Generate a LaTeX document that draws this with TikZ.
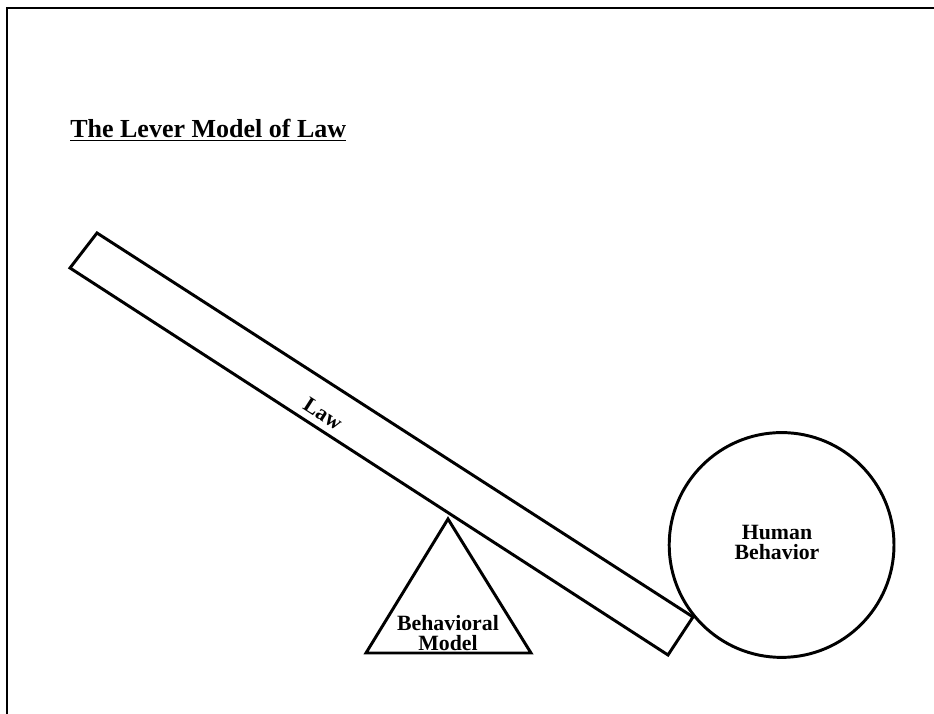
\documentclass[tikz,border=0pt]{standalone}
\usepackage{fontspec}
\setmainfont{Liberation Serif}
\usepackage{tikz}

\begin{document}
\begin{tikzpicture}[
    edge/.style={black, line width=2.1pt, line join=miter},
    lbl/.style={font=\bfseries\fontsize{15.5}{14.2}\selectfont, align=center, inner sep=0pt},
    titlefont/.style={font=\bfseries\fontsize{18.5}{20}\selectfont, inner sep=0pt}]
      \useasboundingbox (0,0) rectangle (23.35,17.85);
      % Frame
      \draw[edge] (0.175,0) -- (0.175,17.65) -- (23.35,17.65);

      % Title
      \node[titlefont, anchor=base west] (title) at (1.75,14.4) {\underline{The Lever Model of Law}};

      % Lever
      \draw[edge] (2.425,12.025) -- (1.75,11.15) -- (16.7,1.475) -- (17.325,2.425) -- cycle;
      \node[lbl, rotate=-32.8] (law) at (8.075,7.5) {Law};

      % Fulcrum
      \draw[edge] (11.2,4.875) -- (9.15,1.525) -- (13.275,1.525) -- cycle;
      \node[lbl] (model) at (11.2,2.025) {Behavioral\\Model};

      % Load
      \draw[edge] (19.54,4.225) circle (2.81);
      \node[lbl] (behavior) at (19.425,4.3) {Human\\Behavior};
    \end{tikzpicture}
\end{document}
